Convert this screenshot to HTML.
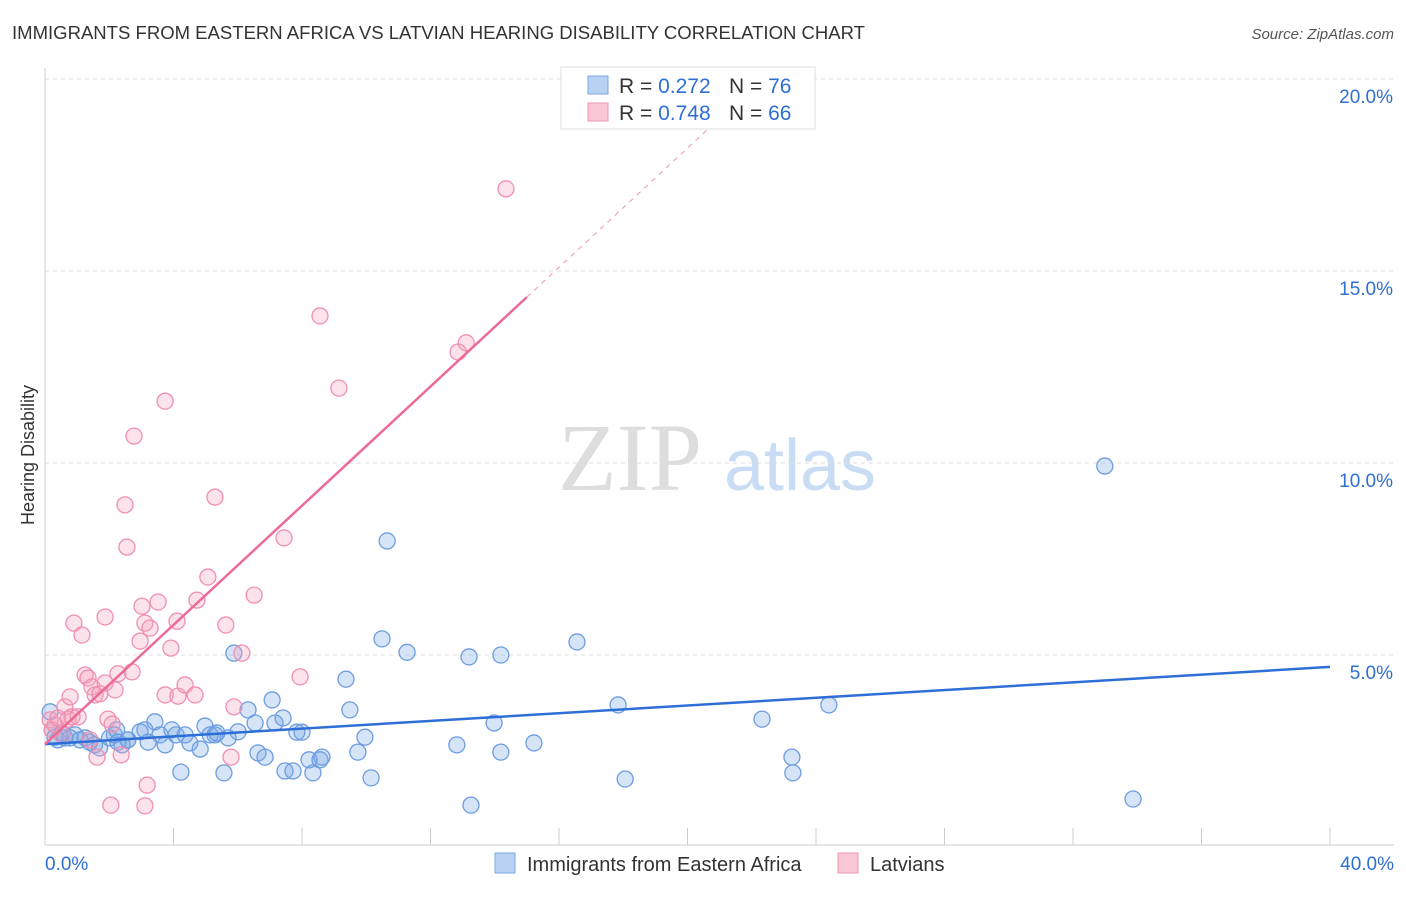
<!DOCTYPE html>
<html><head><meta charset="utf-8"><style>
body{margin:0;background:#fff;font-family:"Liberation Sans",sans-serif}
</style></head><body>
<svg width="1406" height="892" xmlns="http://www.w3.org/2000/svg" font-family="Liberation Sans, sans-serif">
<text x="12" y="39" font-size="18" fill="#333" textLength="853" lengthAdjust="spacingAndGlyphs">IMMIGRANTS FROM EASTERN AFRICA VS LATVIAN HEARING DISABILITY CORRELATION CHART</text>
<text x="1394" y="39" font-size="15" fill="#555" font-style="italic" text-anchor="end">Source: ZipAtlas.com</text>
<text x="630" y="490" font-size="96" fill="#ddd" font-family="Liberation Serif, serif" text-anchor="middle">ZIP</text>
<text x="800" y="490" font-size="72" fill="#c8dcf4" text-anchor="middle">atlas</text>
<g id="grid"></g>
<g id="axes"></g>
<g id="points"></g>
<g id="lines"></g>
<text transform="translate(34,455) rotate(-90)" font-size="18" fill="#333" text-anchor="middle">Hearing Disability</text>
<g>
<rect x="561" y="67" width="254" height="62" fill="#fff" stroke="#ddd"/>
<rect x="588" y="76" width="20" height="18" fill="#b8d1f3" stroke="#7aa6e3"/>
<rect x="588" y="103" width="20" height="18" fill="#f9c6d6" stroke="#ef95b3"/>
<text x="619" y="93" font-size="21" fill="#333">R = <tspan fill="#2d6fd6">0.272</tspan></text>
<text x="729" y="93" font-size="21" fill="#333">N = <tspan fill="#2d6fd6">76</tspan></text>
<text x="619" y="120" font-size="21" fill="#333">R = <tspan fill="#2d6fd6">0.748</tspan></text>
<text x="729" y="120" font-size="21" fill="#333">N = <tspan fill="#2d6fd6">66</tspan></text>
</g>
<g>
<rect x="495" y="853" width="20" height="20" fill="#b8d1f3" stroke="#7aa6e3"/>
<text x="527" y="871" font-size="20" fill="#333">Immigrants from Eastern Africa</text>
<rect x="838" y="853" width="20" height="20" fill="#f9c6d6" stroke="#ef95b3"/>
<text x="870" y="871" font-size="20" fill="#333">Latvians</text>
</g>
</svg>
<script>
const NS="http://www.w3.org/2000/svg";
const yTicks=[5,10,15,20];
const yTickLabels=["5.0%","10.0%","15.0%","20.0%"];
const xTicks=[0,4,8,12,16,20,24,28,32,36,40];
const blueX=[0.16,0.22,0.31,0.40,0.53,0.62,0.78,0.93,1.09,1.25,1.39,1.54,1.70,2.01,2.16,2.23,2.27,2.40,2.58,2.58,2.96,3.11,3.21,3.42,3.58,3.74,3.95,4.08,4.23,4.36,4.51,4.83,4.98,5.14,5.29,5.35,5.57,5.70,5.88,6.01,6.32,6.54,6.63,6.85,7.07,7.16,7.41,7.47,7.72,7.84,8.00,8.22,8.34,8.56,8.62,9.37,9.49,9.74,9.96,10.15,10.49,10.65,11.27,12.82,13.20,13.26,13.98,14.19,14.19,15.22,16.56,17.84,18.06,22.32,23.25,23.28,24.40,32.99,33.87];
const blueY=[3.52,3.05,2.86,2.79,2.97,2.84,2.84,2.92,2.79,2.84,2.73,2.66,2.58,2.84,2.92,3.05,2.73,2.66,2.79,2.79,3.00,3.05,2.73,3.26,2.92,2.66,3.05,2.92,1.95,2.92,2.71,2.55,3.15,2.92,2.92,2.97,1.93,2.84,5.05,3.00,3.57,3.23,2.45,2.34,3.83,3.23,3.36,1.98,1.98,2.99,2.99,2.27,1.93,2.27,2.34,4.37,3.57,2.47,2.86,1.80,5.42,7.97,5.07,2.66,4.95,1.09,3.23,2.47,5.00,2.71,5.34,3.70,1.77,3.33,2.34,1.93,3.70,9.92,1.25];
const pinkX=[0.16,0.22,0.31,0.40,0.53,0.62,0.72,0.78,0.84,0.90,1.03,1.15,1.25,1.34,1.40,1.46,1.56,1.62,1.71,1.87,1.87,1.96,2.05,2.09,2.18,2.27,2.37,2.49,2.55,2.71,2.77,2.96,3.02,3.11,3.18,3.11,3.27,3.52,3.74,3.74,3.92,4.11,4.14,4.36,4.67,4.73,5.07,5.29,5.63,5.79,5.88,6.13,6.51,7.44,7.94,8.56,9.15,12.86,13.11,14.35];
const pinkY=[3.31,3.05,3.18,3.36,2.92,3.65,3.33,3.91,3.39,5.83,3.39,5.52,4.48,4.40,2.79,4.17,3.96,2.34,3.99,5.99,4.27,3.33,1.09,3.20,4.09,4.51,2.40,8.91,7.81,4.56,10.70,5.36,6.27,5.83,1.61,1.07,5.70,6.38,3.96,11.61,5.18,5.88,3.93,4.22,3.96,6.43,7.03,9.11,5.78,2.34,3.65,5.05,6.56,8.05,4.43,13.83,11.95,12.89,13.13,17.14];
const blueLine=[2.68,4.69];
const pinkLine={a:2.68,b:0.776};
const X0=45,X1=1330,Y0=847,PY=38.4;
const xs=v=>X0+(X1-X0)*v/40, ys=v=>Y0-PY*v;
function mk(t,a,p){const e=document.createElementNS(NS,t);for(const k in a)e.setAttribute(k,a[k]);p.appendChild(e);return e;}
const grid=document.getElementById('grid'),axes=document.getElementById('axes'),pts=document.getElementById('points'),lines=document.getElementById('lines');
yTicks.forEach((v,i)=>{
 const l=mk('line',{x1:45,x2:1394,y1:ys(v),y2:ys(v),stroke:'#ddd','stroke-dasharray':'4,4'},grid);
 
 
 const t=mk('text',{x:1393,y:ys(v)+24,'font-size':19,fill:'#2d6fd6','text-anchor':'end'},axes);
 t.textContent=yTickLabels[i];
 
 
});
const tl=mk('line',{x1:45,x2:1394,y1:79,y2:79,stroke:'#ddd','stroke-dasharray':'4,4'},grid);


const ya=mk('line',{x1:45,x2:45,y1:68,y2:845,stroke:'#ccc'},axes);


const xa=mk('line',{x1:45,x2:1394,y1:845,y2:845,stroke:'#ccc'},axes);


xTicks.forEach(v=>{const l=mk('line',{x1:xs(v),x2:xs(v),y1:828,y2:845,stroke:'#ccc'},axes);
 
 });
[["0.0%",45,'start'],["40.0%",1394,'end']].forEach(([s,x,a])=>{const t=mk('text',{x:x,y:870,'font-size':19,fill:'#2d6fd6','text-anchor':a},axes);t.textContent=s;
 
 });
blueX.forEach((v,i)=>{const c=mk('circle',{cx:xs(v),cy:ys(blueY[i]),r:8,fill:'rgba(120,165,230,0.3)',stroke:'#6c9de0','stroke-width':1.3},pts);
 
 });
pinkX.forEach((v,i)=>{const c=mk('circle',{cx:xs(v),cy:ys(pinkY[i]),r:8,fill:'rgba(245,160,190,0.3)',stroke:'#f08fb0','stroke-width':1.3},pts);
 
 });
const bl=mk('line',{x1:xs(0),y1:ys(blueLine[0]),x2:xs(40),y2:ys(blueLine[1]),stroke:'#2d6fd6','stroke-width':2.5},lines);


const pl=mk('line',{x1:xs(0),y1:ys(pinkLine.a),x2:xs(15),y2:ys(pinkLine.a+pinkLine.b*15),stroke:'#ec6a96','stroke-width':2.5},lines);


const xe=(20.3-pinkLine.a)/pinkLine.b;
const pd=mk('line',{x1:xs(15),y1:ys(pinkLine.a+pinkLine.b*15),x2:xs(xe),y2:ys(20.3),stroke:'#f0a5bf','stroke-width':1.2,'stroke-dasharray':'5,5'},lines);


</script>
</body></html>
